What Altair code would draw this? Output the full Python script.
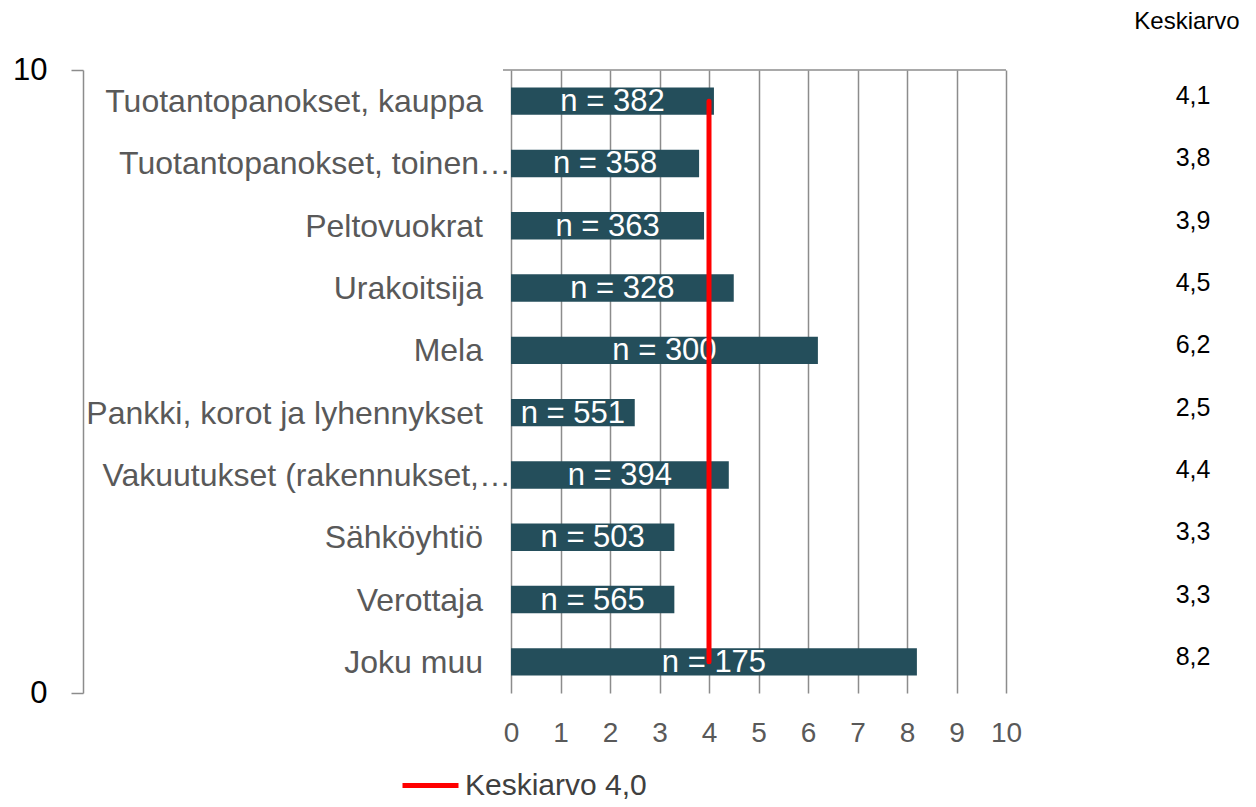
import altair as alt
import pandas as pd

categories = ["Tuotantopanokset, kauppa", "Tuotantopanokset, toinen…", "Peltovuokrat",
              "Urakoitsija", "Mela", "Pankki, korot ja lyhennykset",
              "Vakuutukset (rakennukset,…", "Sähköyhtiö", "Verottaja", "Joku muu"]
truncated = [False, True, False, False, False, False, True, False, False, False]
values = [4.1, 3.8, 3.9, 4.5, 6.2, 2.5, 4.4, 3.3, 3.3, 8.2]
counts = [382, 358, 363, 328, 300, 551, 394, 503, 565, 175]
mean_all = 4.0
mean_label = "Keskiarvo 4,0"
header_text = "Keskiarvo"
x_ticks = list(range(0, 11))
left_ticks = [0, 10]

FONT = "Liberation Sans"
W, H = 495, 623
GRID_DARK = "#8c8c8c"
GRID_LIGHT = "#dcdcdc"
BAR = "#244E5B"

df = pd.DataFrame({"cat": categories, "value": values, "n": counts, "trunc": truncated})
df["nlabel"] = ["n = " + str(c) for c in counts]
df["vlabel"] = [f"{v:.1f}".replace(".", ",") for v in values]
df["mid"] = df["value"] / 2


def yscale():
    return alt.Scale(domain=categories, paddingInner=0, paddingOuter=0)


base = alt.Chart(df)

bars = base.mark_bar(color=BAR, height=alt.RelativeBandSize(0.44)).encode(
    x=alt.X("value:Q", scale=alt.Scale(domain=[0, 10], nice=False),
            axis=alt.Axis(values=x_ticks, grid=True, gridColor=GRID_DARK, gridWidth=1.5,
                          domain=False, ticks=False, labelFontSize=28, labelColor="#595959",
                          labelFont=FONT, labelPadding=26, labelFlush=False,
                          labelOverlap=False, title=None, format="d")),
    y=alt.Y("cat:N", scale=yscale(),
            axis=alt.Axis(domain=True, domainColor=GRID_DARK, domainWidth=1.5,
                          ticks=True, tickBand="extent", tickSize=8, tickColor=GRID_DARK,
                          tickWidth=1.5, grid=True, gridColor=GRID_LIGHT, gridWidth=2,
                          labels=False, title=None)),
)

nlab = base.mark_text(color="white", fontSize=31, font=FONT, align="center",
                      baseline="middle", dy=1).encode(
    x=alt.X("mid:Q"), y=alt.Y("cat:N", scale=yscale(), axis=None), text="nlabel:N")

catlab = base.transform_filter("!datum.trunc").mark_text(
    color="#595959", fontSize=32, font=FONT, align="right", baseline="middle", dy=1).encode(
    x=alt.value(-28), y=alt.Y("cat:N", scale=yscale(), axis=None), text="cat:N")

catlab_tr = base.transform_filter("datum.trunc").mark_text(
    color="#595959", fontSize=32, font=FONT, align="right", baseline="middle", dy=1).encode(
    x=alt.value(0), y=alt.Y("cat:N", scale=yscale(), axis=None), text="cat:N")

right = base.mark_text(color="black", fontSize=25, font=FONT, align="center",
                       baseline="middle", dy=-5).encode(
    x=alt.value(682), y=alt.Y("cat:N", scale=yscale(), axis=None), text="vlabel:N")

header = alt.Chart(pd.DataFrame({"t": [header_text]})).mark_text(
    color="black", fontSize=24, font=FONT, align="center", baseline="middle").encode(
    x=alt.value(676), y=alt.value(-48), text="t:N")

rule_df = pd.DataFrame({"x": [mean_all], "y1": [categories[0]], "y2": [categories[-1]],
                        "lab": [mean_label]})
rule = alt.Chart(rule_df).mark_rule(strokeWidth=5, strokeCap="round").encode(
    x="x:Q",
    y=alt.Y("y1:N", scale=yscale(), axis=None),
    y2="y2:N",
    color=alt.Color("lab:N", scale=alt.Scale(domain=[mean_label], range=["#ff0000"]),
                    legend=alt.Legend(orient="none", legendX=-111, legendY=685,
                                      symbolType="stroke", symbolSize=3136,
                                      symbolStrokeWidth=5, labelFontSize=30,
                                      labelColor="#404040", labelFont=FONT, title=None,
                                      padding=0, labelOffset=4, labelLimit=400)),
)

top = alt.Chart(pd.DataFrame({"k": [0]})).mark_rule(color=GRID_DARK, strokeWidth=1.5).encode(
    x=alt.value(-8), x2=alt.value(W), y=alt.value(0))

inner = alt.layer(bars, nlab, catlab, catlab_tr, right, header, rule, top)

bracket = alt.Chart(pd.DataFrame({"v": left_ticks})).mark_point(opacity=0).encode(
    x=alt.value(0),
    y=alt.Y("v:Q", scale=alt.Scale(domain=[0, 10], nice=False),
            axis=alt.Axis(values=left_ticks, orient="left", offset=428, domainColor=GRID_DARK,
                          domainWidth=1.5, tickColor=GRID_DARK, tickWidth=1.5, tickSize=12,
                          labelFontSize=31, labelColor="black", labelFont=FONT,
                          labelPadding=24, grid=False, title=None, format="d")),
)

chart = alt.layer(inner, bracket).resolve_scale(y="independent").properties(
    width=W, height=H,
    padding={"left": 503, "top": 62, "right": 242, "bottom": 106},
    autosize=alt.AutoSizeParams(type="none"),
).configure_view(stroke=None)

chart.save("out.html", embed_options={"renderer": "svg", "actions": False})
